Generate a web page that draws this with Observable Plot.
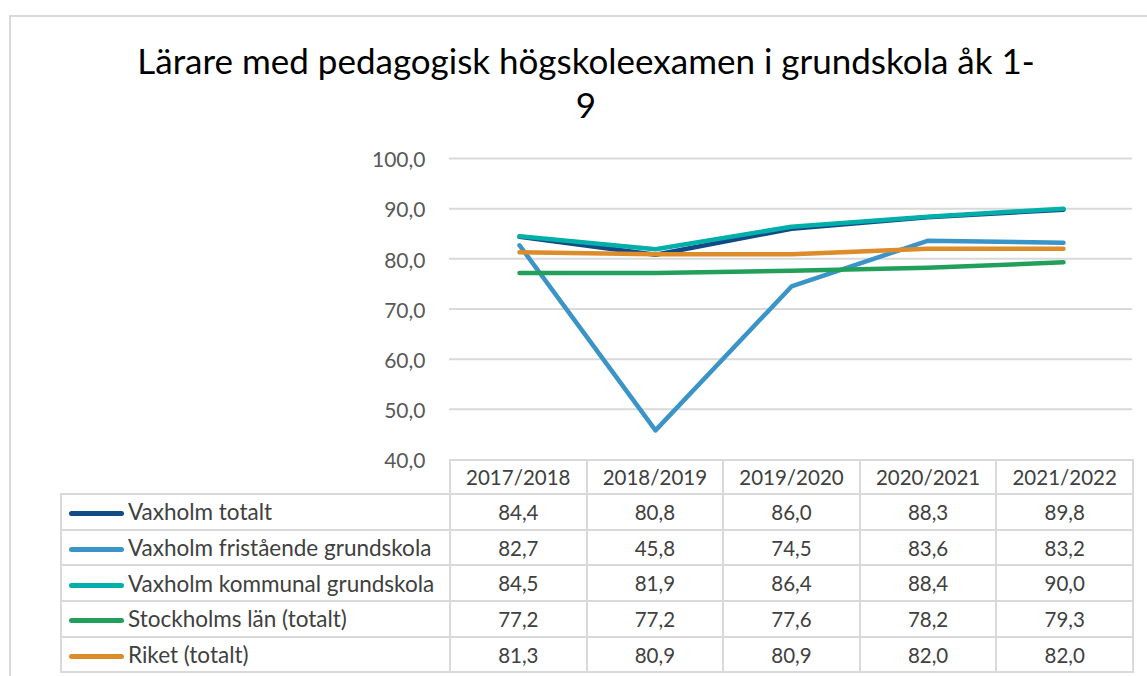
<!DOCTYPE html>
<html><head><meta charset="utf-8">
<script src="https://cdn.jsdelivr.net/npm/d3@7"></script>
<script src="https://cdn.jsdelivr.net/npm/@observablehq/plot@0.6"></script>
<style>
body{margin:0;background:#fff;font-family:Lato,"Open Sans",sans-serif;}
#wrap{position:relative;width:1147px;height:676px;overflow:hidden;background:#fff;}
#frame{position:absolute;left:9px;top:15px;width:1170px;height:700px;border:2px solid #d9d9d9;box-sizing:border-box;}
#title{position:absolute;left:0;width:1172px;top:38px;text-align:center;font-size:35px;line-height:44px;color:#000;}
#chart{position:absolute;left:0;top:0;}
#tbl{position:absolute;left:60px;top:459px;border-collapse:collapse;table-layout:fixed;color:#404040;font-size:20.5px;}
#tbl td{border:2px solid #d9d9d9;padding:0;text-align:center;white-space:nowrap;overflow:hidden;}
#tbl tr.h td{height:32px;}
#tbl tr.r td{height:33.7px;}
#tbl td.lab{text-align:left;font-size:22.5px;}
#tbl td.blank{border-top:none;border-left:none;}
.sw{display:inline-block;width:55px;height:5px;border-radius:3px;margin:0 4px 0 7px;vertical-align:middle;position:relative;top:-1px;}
</style>
</head><body>
<div id="wrap">
  <div id="frame"></div>
  <div id="title">Lärare med pedagogisk högskoleexamen i grundskola åk 1-<br>9</div>
  <div id="chart"></div>
  <table id="tbl"></table>
</div>
<script>
const categories = ["2017/2018","2018/2019","2019/2020","2020/2021","2021/2022"];
const seriesNames = ["Vaxholm totalt","Vaxholm fristående grundskola","Vaxholm kommunal grundskola","Stockholms län (totalt)","Riket (totalt)"];
const vaxholmTotalt = [84.4,80.8,86.0,88.3,89.8];
const vaxholmFristaende = [82.7,45.8,74.5,83.6,83.2];
const vaxholmKommunal = [84.5,81.9,86.4,88.4,90.0];
const stockholmsLan = [77.2,77.2,77.6,78.2,79.3];
const riket = [81.3,80.9,80.9,82.0,82.0];
const colors = ["#124a85","#3a94c8","#00afa9","#22a05b","#dd8c2c"];
const yTicks = [40,50,60,70,80,90,100];

const allValues = [vaxholmTotalt,vaxholmFristaende,vaxholmKommunal,stockholmsLan,riket];
const data = [];
allValues.forEach((vals,si)=>vals.forEach((v,ci)=>data.push({series:seriesNames[si],cat:categories[ci],value:v})));
const fmt = d => d.toFixed(1).replace(".", ",");

const plot = Plot.plot({
  width:1147, height:480,
  marginTop:158, marginBottom:21, marginLeft:449, marginRight:15,
  style:{fontFamily:"Lato, 'Open Sans', sans-serif", fontSize:"21px", color:"#595959", background:"transparent"},
  x:{type:"point", domain:categories, padding:0.5, axis:null},
  y:{domain:[40,100], axis:null},
  color:{domain:seriesNames, range:colors},
  marks:[
    Plot.ruleY(yTicks.slice(1), {stroke:"#d9d9d9", strokeWidth:2, strokeOpacity:1}),
    Plot.axisY(yTicks, {label:null, tickSize:0, tickPadding:24, tickFormat:fmt, fontSize:21, fill:"#595959", dy:2}),
    Plot.line(data, {x:"cat", y:"value", z:"series", stroke:"series", strokeWidth:4.5, strokeLinecap:"round", strokeLinejoin:"round"})
  ]
});
document.getElementById("chart").appendChild(plot);

// data table
const tbl = document.getElementById("tbl");
const cg = document.createElement("colgroup");
[389,136.6,136.6,136.6,136.6,136.6].forEach(w=>{const c=document.createElement("col");c.style.width=w+"px";cg.appendChild(c);});
tbl.appendChild(cg);
const hr = document.createElement("tr"); hr.className="h";
const blank = document.createElement("td"); blank.className="blank"; hr.appendChild(blank);
categories.forEach(c=>{const td=document.createElement("td");td.textContent=c;hr.appendChild(td);});
tbl.appendChild(hr);
seriesNames.forEach((name,si)=>{
  const tr=document.createElement("tr"); tr.className="r";
  const td=document.createElement("td"); td.className="lab";
  const sw=document.createElement("span"); sw.className="sw"; sw.style.background=colors[si];
  td.appendChild(sw); td.appendChild(document.createTextNode(name)); tr.appendChild(td);
  allValues[si].forEach(v=>{const c=document.createElement("td");c.textContent=fmt(v);tr.appendChild(c);});
  tbl.appendChild(tr);
});
</script>
</body></html>
